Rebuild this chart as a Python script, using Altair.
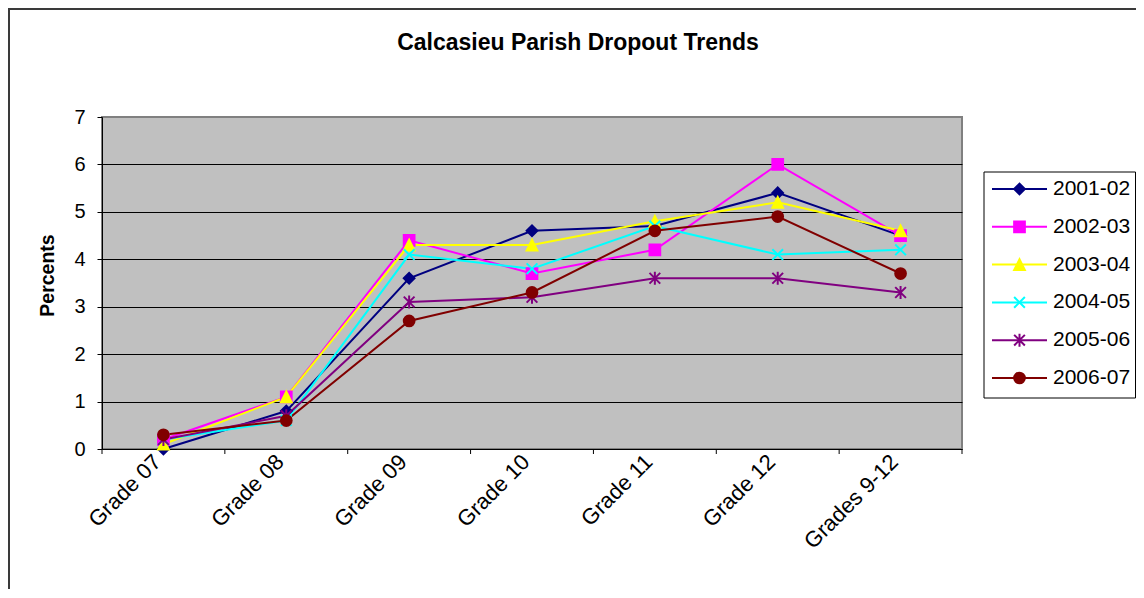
import altair as alt
import pandas as pd

# ---- data ----
grades = ["Grade 07", "Grade 08", "Grade 09", "Grade 10", "Grade 11", "Grade 12", "Grades 9-12"]
series = ["2001-02", "2002-03", "2003-04", "2004-05", "2005-06", "2006-07"]
y2001_02 = [0.0, 0.8, 3.6, 4.6, 4.7, 5.4, 4.5]
y2002_03 = [0.2, 1.1, 4.4, 3.7, 4.2, 6.0, 4.5]
y2003_04 = [0.1, 1.1, 4.3, 4.3, 4.8, 5.2, 4.6]
y2004_05 = [0.2, 0.6, 4.1, 3.8, 4.7, 4.1, 4.2]
y2005_06 = [0.2, 0.7, 3.1, 3.2, 3.6, 3.6, 3.3]
y2006_07 = [0.3, 0.6, 2.7, 3.3, 4.6, 4.9, 3.7]
colors = ["#000080", "#FF00FF", "#FFFF00", "#00FFFF", "#800080", "#800000"]
shapes = [
    "diamond",
    "square",
    "M0,-1L1,1L-1,1Z",
    "M-1,-1L1,1M-1,1L1,-1",
    "M-1,-1L1,1M-1,1L1,-1M0,-1.2L0,1.2",
    "circle",
]
title_text = "Calcasieu Parish Dropout Trends"
y_title = "Percents"

values = [y2001_02, y2002_03, y2003_04, y2004_05, y2005_06, y2006_07]
rows = []
for s, vals in zip(series, values):
    for g, v in zip(grades, vals):
        rows.append({"Grade": g, "Series": s, "Value": v})
df = pd.DataFrame(rows)
leg_df = pd.DataFrame({"Series": series})
grade_df = pd.DataFrame({"Grade": grades})
one = pd.DataFrame({"k": [0]})

W, H = 860, 332
FONT = "Liberation Sans"

color_scale = alt.Scale(domain=series, range=colors)
shape_scale = alt.Scale(domain=series, range=shapes)
x_enc = alt.X(
    "Grade:N", sort=grades, title=None,
    scale=alt.Scale(type="band", domain=grades, paddingInner=0, paddingOuter=0),
    axis=alt.Axis(labelAngle=-45, labelAlign="right", labelBaseline="middle",
                  labelFontSize=22, labelColor="black", labelPadding=9, labelOffset=-6,
                  ticks=False, domainColor="black", domainWidth=1, labelFont=FONT),
)
y_enc = alt.Y(
    "Value:Q",
    scale=alt.Scale(domain=[0, 7], nice=False, zero=True),
    axis=alt.Axis(values=list(range(8)), title=y_title, titleFontSize=19.5,
                  titleFontWeight="bold", titleColor="black", titleX=-49, titleY=158,
                  titleBaseline="alphabetic", titleAlign="center",
                  labelFontSize=20, labelColor="black", labelPadding=12,
                  tickSize=5, tickColor="black", domainColor="black",
                  grid=True, gridColor="black", gridWidth=1,
                  gridOpacity=alt.condition("datum.value == 7 || datum.value == 0",
                                            alt.value(0), alt.value(1)),
                  labelFont=FONT, titleFont=FONT),
)

lines = alt.Chart(df).mark_line(strokeWidth=2).encode(
    x=x_enc, y=y_enc,
    color=alt.Color("Series:N", scale=color_scale, legend=None),
    detail="Series:N",
)
points = alt.Chart(df).mark_point(filled=True, size=115, strokeWidth=2, opacity=1).encode(
    x=alt.X("Grade:N", sort=grades),
    y="Value:Q",
    shape=alt.Shape("Series:N", scale=shape_scale, legend=None),
    color=alt.Color("Series:N", scale=color_scale, legend=None),
    stroke=alt.Stroke("Series:N", scale=color_scale, legend=None),
)
xticks = alt.Chart(grade_df).mark_rule(color="black", strokeWidth=1).encode(
    x=alt.X("Grade:N", sort=grades, bandPosition=0),
    y=alt.value(H), y2=alt.value(H + 5),
)
xtick_end = alt.Chart(one).mark_rule(color="black", strokeWidth=1).encode(
    x=alt.value(W), y=alt.value(H), y2=alt.value(H + 5),
)

main = alt.layer(lines, points, xticks, xtick_end)

# ---- legend (built from the series list) ----
leg_y = alt.Y("Series:N", sort=series, axis=None,
              scale=alt.Scale(type="point", domain=series, range=[72, 261], padding=0))
leg_box = alt.Chart(one).mark_rect(fill="white", stroke="black", strokeWidth=1).encode(
    x=alt.value(882), x2=alt.value(1033.5), y=alt.value(55), y2=alt.value(281),
)
leg_line = alt.Chart(leg_df).mark_rule(strokeWidth=2).encode(
    x=alt.value(890), x2=alt.value(945), y=leg_y,
    color=alt.Color("Series:N", scale=color_scale, legend=None),
)
leg_pt = alt.Chart(leg_df).mark_point(filled=True, size=115, strokeWidth=2, opacity=1).encode(
    x=alt.value(917.5), y=leg_y,
    shape=alt.Shape("Series:N", scale=shape_scale, legend=None),
    color=alt.Color("Series:N", scale=color_scale, legend=None),
    stroke=alt.Stroke("Series:N", scale=color_scale, legend=None),
)
leg_txt = alt.Chart(leg_df).mark_text(align="left", baseline="middle", fontSize=21,
                                      font=FONT, color="black").encode(
    x=alt.value(951), y=leg_y, text="Series:N",
)
legend = alt.layer(leg_box, leg_line, leg_pt, leg_txt)

# ---- title and outer frame ----
title = alt.Chart(one).mark_text(text=title_text, fontSize=23, fontWeight="bold", font=FONT,
                                 align="center", baseline="alphabetic", color="black").encode(
    x=alt.value(476), y=alt.value(-67),
)
frame_left = alt.Chart(one).mark_rule(color="#3a3a3a", strokeWidth=2).encode(
    x=alt.value(-93), y=alt.value(-108), y2=alt.value(481),
)
frame_top = alt.Chart(one).mark_rule(color="#3a3a3a", strokeWidth=2).encode(
    x=alt.value(-94), x2=alt.value(1034), y=alt.value(-108),
)

chart = alt.layer(main, legend, title, frame_left, frame_top).resolve_scale(
    y="independent"
).properties(
    width=W, height=H,
    padding={"left": 94, "top": 109, "right": 174, "bottom": 140},
    autosize=alt.AutoSizeParams(type="none"),
).configure(font=FONT).configure_view(
    fill="#C0C0C0", stroke="#808080", strokeWidth=2
)

chart.save("out.html", embed_options={"renderer": "svg", "actions": False})
